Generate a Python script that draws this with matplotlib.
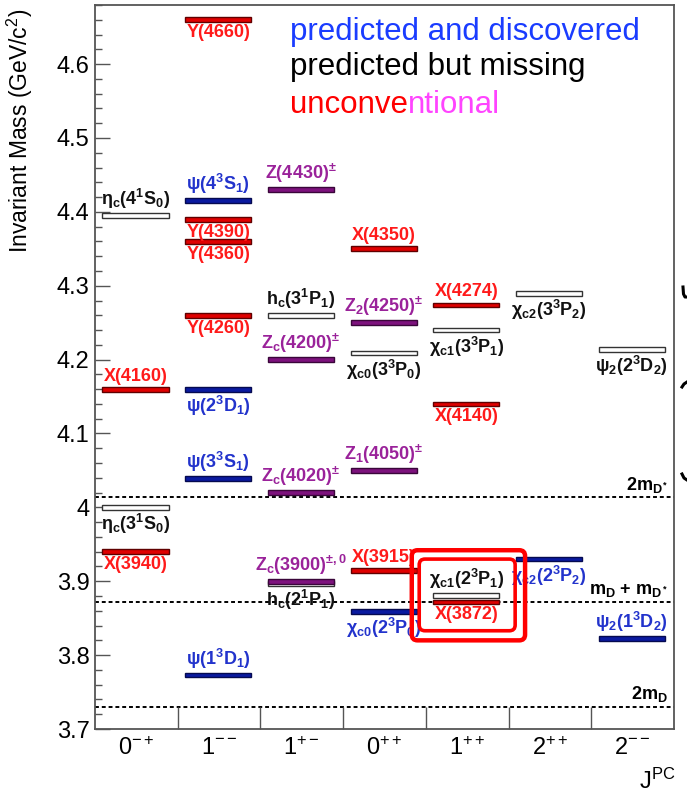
import matplotlib.pyplot as plt
from matplotlib.patches import FancyBboxPatch
from matplotlib.lines import Line2D

plt.rcParams['font.family'] = ['Liberation Sans', 'DejaVu Sans']
plt.rcParams['mathtext.fontset'] = 'custom'
plt.rcParams['mathtext.rm'] = 'Liberation Sans'
plt.rcParams['mathtext.it'] = 'Liberation Sans'
plt.rcParams['mathtext.bf'] = 'Liberation Sans:bold'
plt.rcParams['mathtext.default'] = 'regular'

# J^PC columns
jpc_labels = ['$0^{-+}$', '$1^{--}$', '$1^{+-}$', '$0^{++}$', '$1^{++}$', '$2^{++}$', '$2^{--}$']

# charmonium(-like) states: name, column, mass (GeV), kind, label side
names = ['η$_c$(4$^1$S$_0$)', 'X(4160)', 'η$_c$(3$^1$S$_0$)', 'X(3940)',
         'Y(4660)', 'ψ(4$^3$S$_1$)', 'Y(4390)', 'Y(4360)', 'Y(4260)',
         'ψ(2$^3$D$_1$)', 'ψ(3$^3$S$_1$)', 'ψ(1$^3$D$_1$)',
         'Z(4430)$^{\\pm}$', 'h$_c$(3$^1$P$_1$)', 'Z$_c$(4200)$^{\\pm}$',
         'Z$_c$(4020)$^{\\pm}$', 'h$_c$(2$^1$P$_1$)', 'Z$_c$(3900)$^{\\pm,0}$',
         'X(4350)', 'Z$_2$(4250)$^{\\pm}$', 'χ$_{c0}$(3$^3$P$_0$)',
         'Z$_1$(4050)$^{\\pm}$', 'X(3915)', 'χ$_{c0}$(2$^3$P$_0$)',
         'X(4274)', 'χ$_{c1}$(3$^3$P$_1$)', 'X(4140)', 'χ$_{c1}$(2$^3$P$_1$)', 'X(3872)',
         'χ$_{c2}$(3$^3$P$_2$)', 'χ$_{c2}$(2$^3$P$_2$)',
         'ψ$_2$(2$^3$D$_2$)', 'ψ$_2$(1$^3$D$_2$)']
columns = [0, 0, 0, 0,
           1, 1, 1, 1, 1, 1, 1, 1,
           2, 2, 2, 2, 2, 2,
           3, 3, 3, 3, 3, 3,
           4, 4, 4, 4, 4,
           5, 5,
           6, 6]
masses = [4.395, 4.160, 4.000, 3.940,
          4.660, 4.415, 4.390, 4.360, 4.260, 4.160, 4.039, 3.773,
          4.430, 4.260, 4.200, 4.020, 3.897, 3.900,
          4.350, 4.250, 4.209, 4.050, 3.915, 3.859,
          4.274, 4.240, 4.140, 3.881, 3.872,
          4.290, 3.930,
          4.214, 3.823]
kinds = ['miss', 'exotic', 'miss', 'exotic',
         'exotic', 'found', 'exotic', 'exotic', 'exotic', 'found', 'found', 'found',
         'charged', 'miss', 'charged', 'charged', 'miss', 'charged',
         'exotic', 'charged', 'miss', 'charged', 'exotic', 'found',
         'exotic', 'miss', 'exotic', 'miss', 'exotic',
         'miss', 'found',
         'miss', 'found']
sides = ['above', 'above', 'below', 'below',
         'below', 'above', 'below', 'below', 'below', 'below', 'above', 'above',
         'above', 'above', 'above', 'above', 'below', 'above',
         'above', 'above', 'below', 'above', 'above', 'below',
         'above', 'below', 'below', 'above', 'below',
         'below', 'below',
         'below', 'above']

# thresholds
thr_masses = [4.0136, 3.8718, 3.7297]
thr_labels = ['2m$_{D^*}$', 'm$_D$ + m$_{D^*}$', '2m$_D$']

bar_face = {'found': '#0a1aa0', 'miss': 'white', 'exotic': '#e00000', 'charged': '#7d127d'}
bar_edge = {'found': '#050a50', 'miss': '#333333', 'exotic': '#600000', 'charged': '#3a063a'}
text_col = {'found': '#2233cc', 'miss': '#111111', 'exotic': '#ff1a1a', 'charged': '#9a229a'}

fig = plt.figure(figsize=(6.87, 7.93), dpi=100)
ax = fig.add_axes([0.1383, 0.0807, 0.8427, 0.913])
ax.set_xlim(0, 7)
ax.set_ylim(3.7, 4.68)

thick = 0.0065
for name, c, m, k, s in zip(names, columns, masses, kinds, sides):
    ax.barh(m, 0.8, left=c + 0.09, height=thick, color=bar_face[k],
            edgecolor=bar_edge[k], linewidth=1.0, zorder=3 if k != 'miss' else 2)
    if s == 'above':
        ax.annotate(name, (c + 0.49, m), xytext=(0, 3.2), textcoords='offset points',
                    ha='center', va='bottom', fontsize=13, fontweight='bold',
                    color=text_col[k], zorder=4)
    else:
        ax.annotate(name, (c + 0.49, m), xytext=(0, -3.2), textcoords='offset points',
                    ha='center', va='top', fontsize=13, fontweight='bold',
                    color=text_col[k], zorder=4)

for m, lab in zip(thr_masses, thr_labels):
    ax.axhline(m, color='black', ls=(0, (2, 1.5)), lw=1.4, zorder=1)
    ax.annotate(lab, (6.93, m), xytext=(0, 2), textcoords='offset points',
                ha='right', va='bottom', fontsize=13, fontweight='bold')

# highlight boxes around X(3872)
hi = names.index('X(3872)')
hc, hm = columns[hi], masses[hi]
for dx0, dx1, dy0, dy1, lw in [(-0.17, 1.2, -0.052, 0.070, 3.2), (-0.08, 1.08, -0.039, 0.058, 2.6)]:
    box = FancyBboxPatch((hc + dx0, hm + dy0), dx1 - dx0, dy1 - dy0,
                         boxstyle='round,pad=0,rounding_size=0.07', mutation_aspect=0.112,
                         fill=False, edgecolor='#ff0000', linewidth=lw, zorder=5)
    ax.add_patch(box)

# axes styling
ax.set_xticks([i + 0.5 for i in range(7)])
ax.set_xticklabels(jpc_labels, fontsize=17)
ax.set_xticks(range(1, 7), minor=True)
ax.tick_params(axis='x', which='major', length=0, pad=6)
ax.tick_params(axis='x', which='minor', direction='in', length=16, width=1.0, color='#555555')

yt = [3.7, 3.8, 3.9, 4.0, 4.1, 4.2, 4.3, 4.4, 4.5, 4.6]
ytl = ['3.7', '3.8', '3.9', '4', '4.1', '4.2', '4.3', '4.4', '4.5', '4.6']
ax.set_yticks(yt)
ax.set_yticklabels(ytl, fontsize=17)
ax.set_yticks([3.7 + 0.02 * i for i in range(50)], minor=True)
ax.tick_params(axis='y', which='major', direction='in', length=11, width=1.0, color='#555555', pad=4)
ax.tick_params(axis='y', which='minor', direction='in', length=5, width=1.0, color='#555555')
for sp in ax.spines.values():
    sp.set_color('#555555')
    sp.set_linewidth(1.3)

ax.set_ylabel('Invariant Mass (GeV/c$^2$)', fontsize=16.5, loc='top')
ax.yaxis.set_label_coords(-0.104, 0.995)
ax.text(0.94, -0.055, 'J$^{PC}$', transform=ax.transAxes, fontsize=17, ha='left', va='top')

# legend text
ax.text(0.337, 0.952, 'predicted and discovered', transform=ax.transAxes,
        fontsize=22.5, color='#1a3cff', va='baseline')
ax.text(0.337, 0.903, 'predicted but missing', transform=ax.transAxes,
        fontsize=22.5, color='black', va='baseline')
t1 = ax.text(0.337, 0.851, 'unconve', transform=ax.transAxes,
             fontsize=22.5, color='#ff0000', va='baseline')
ax.annotate('ntional', xy=(1, 0), xycoords=t1, fontsize=22.5, color='#ff44ff',
            ha='left', va='bottom')

# partial braces at the right edge (cropped)
W, H = 687, 793
for xs, ys in [([683, 683.5, 685, 687], [287, 294, 297, 297]),
               ([682, 684, 687], [387, 384, 382]),
               ([682, 684, 687], [474, 478, 480])]:
    fig.add_artist(Line2D([x / W for x in xs], [1 - y / H for y in ys],
                          color='black', lw=2.2, transform=fig.transFigure))

fig.savefig('out.png', dpi=100)
